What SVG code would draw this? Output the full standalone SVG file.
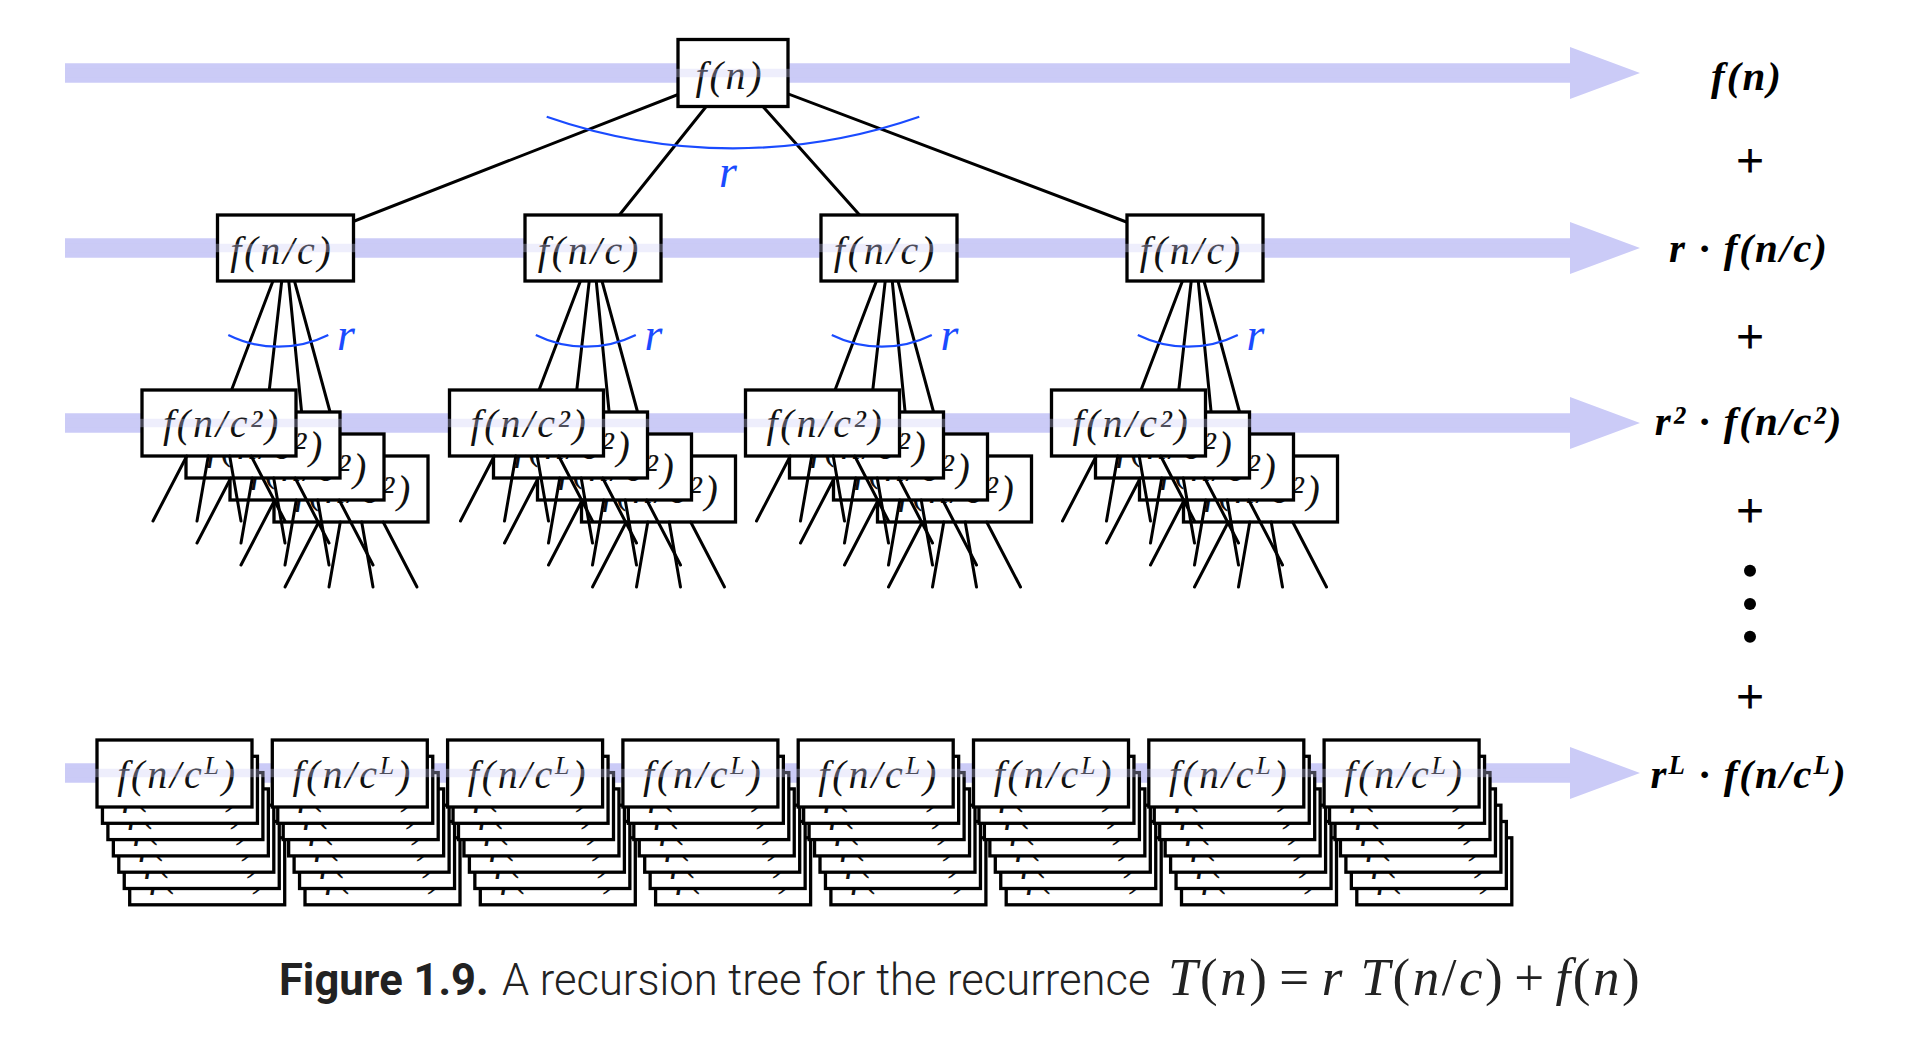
<svg xmlns="http://www.w3.org/2000/svg" width="1908" height="1048" viewBox="0 0 1908 1048">
<style>
.band{fill:#cbcbf7}
.strip{fill:#cbcbf7;fill-opacity:0.33}
.box{fill:#fff;stroke:#000;stroke-width:3.3}
.edge{stroke:#000;stroke-width:3;fill:none;stroke-linecap:round}
.arc{stroke:#1a4bff;fill:none;stroke-width:2.2}
.lbl{font-family:"Liberation Serif",serif;font-style:italic;font-size:40px;letter-spacing:2.8px;fill:#111;text-anchor:middle}
.rlab{font-family:"Liberation Serif",serif;font-style:italic;font-weight:bold;font-size:41px;letter-spacing:2px;fill:#000;text-anchor:middle}
.r{font-family:"Liberation Serif",serif;font-style:italic;font-size:46px;fill:#1a4bff}
.plus{font-family:"Liberation Serif",serif;font-size:48px;fill:#000;stroke:#000;stroke-width:1;text-anchor:middle}
.cap{font-family:Roboto,"Liberation Sans",sans-serif;font-size:43.5px;fill:#222}
.math{font-family:"Liberation Serif",serif;font-size:53px;letter-spacing:2.5px;fill:#222}
</style>
<defs>
<g id="u2">
<rect class="box" x="-77" y="-33" width="154" height="66"/>
<text class="lbl" x="3" y="13.5">f(n/c²)</text>
<path class="edge" d="M-32.2 33L-66 98M-10.7 33L-22 98M10.7 33L22 98M32.2 33L66 98"/>
</g>
<g id="uL">
<rect class="box" x="-77.5" y="-33.5" width="155" height="67"/>
<text class="lbl" x="3" y="14.5">f(n/c<tspan dy="-14" font-size="26">L</tspan><tspan dy="14">)</tspan></text>
</g>
</defs>
<rect width="1908" height="1048" fill="#fff"/>
<g id="bands">
<path class="band" d="M65 63.3H1570V47L1640 73L1570 99V82.7H65Z"/>
<path class="band" d="M65 238.3H1570V222L1640 248L1570 274V257.7H65Z"/>
<path class="band" d="M65 413.3H1570V397L1640 423L1570 449V432.7H65Z"/>
<path class="band" d="M65 763.3H1570V747L1640 773L1570 799V782.7H65Z"/>
</g>
<g id="connectors">
<path class="edge" d="M733 73L285.5 248M733 73L593 248M733 73L889 248M733 73L1195 248"/>
<path class="edge" d="M285.5 248L219 423M285.5 248L263 445M285.5 248L307 467M285.5 248L351 489"/>
<path class="edge" d="M593 248L526.5 423M593 248L570.5 445M593 248L614.5 467M593 248L658.5 489"/>
<path class="edge" d="M889 248L822.5 423M889 248L866.5 445M889 248L910.5 467M889 248L954.5 489"/>
<path class="edge" d="M1195 248L1128.5 423M1195 248L1172.5 445M1195 248L1216.5 467M1195 248L1260.5 489"/>
</g>
<g id="arcs">
<path class="arc" d="M546.7 116.7A565 565 0 0 0 919.3 116.7" stroke-width="2"/>
<text class="r" x="728" y="187" text-anchor="middle">r</text>
<path class="arc" d="M228.3 335A112.7 112.7 0 0 0 328.3 335"/>
<text class="r" x="337" y="350">r</text>
<path class="arc" d="M535.8 335A112.7 112.7 0 0 0 635.8 335"/>
<text class="r" x="644.5" y="350">r</text>
<path class="arc" d="M831.8 335A112.7 112.7 0 0 0 931.8 335"/>
<text class="r" x="940.5" y="350">r</text>
<path class="arc" d="M1137.8 335A112.7 112.7 0 0 0 1237.8 335"/>
<text class="r" x="1246.5" y="350">r</text>
</g>
<g id="root">
<rect class="box" x="678" y="39.5" width="110" height="67"/>
<text class="lbl" x="730" y="88.5">f(n)</text>
</g>
<g id="n1a"><rect class="box" x="217.5" y="215" width="136" height="66"/><text class="lbl" x="282" y="263.5">f(n/c)</text></g>
<g id="n1b"><rect class="box" x="525" y="215" width="136" height="66"/><text class="lbl" x="589.5" y="263.5">f(n/c)</text></g>
<g id="n1c"><rect class="box" x="821" y="215" width="136" height="66"/><text class="lbl" x="885.5" y="263.5">f(n/c)</text></g>
<g id="n1d"><rect class="box" x="1127" y="215" width="136" height="66"/><text class="lbl" x="1191.5" y="263.5">f(n/c)</text></g>
<g id="n2a">
<use href="#u2" x="351" y="489"/><use href="#u2" x="307" y="467"/><use href="#u2" x="263" y="445"/><use href="#u2" x="219" y="423"/>
</g>
<g id="n2b">
<use href="#u2" x="658.5" y="489"/><use href="#u2" x="614.5" y="467"/><use href="#u2" x="570.5" y="445"/><use href="#u2" x="526.5" y="423"/>
</g>
<g id="n2c">
<use href="#u2" x="954.5" y="489"/><use href="#u2" x="910.5" y="467"/><use href="#u2" x="866.5" y="445"/><use href="#u2" x="822.5" y="423"/>
</g>
<g id="n2d">
<use href="#u2" x="1260.5" y="489"/><use href="#u2" x="1216.5" y="467"/><use href="#u2" x="1172.5" y="445"/><use href="#u2" x="1128.5" y="423"/>
</g>
<g id="nL1"><use href="#uL" x="207.2" y="871.3"/><use href="#uL" x="201.75" y="855"/><use href="#uL" x="196.3" y="838.7"/><use href="#uL" x="190.85" y="822.4"/><use href="#uL" x="185.4" y="806.1"/><use href="#uL" x="179.95" y="789.8"/><use href="#uL" x="174.5" y="773.5"/></g>
<g id="nL2"><use href="#uL" x="382.5" y="871.3"/><use href="#uL" x="377.05" y="855"/><use href="#uL" x="371.6" y="838.7"/><use href="#uL" x="366.15" y="822.4"/><use href="#uL" x="360.7" y="806.1"/><use href="#uL" x="355.25" y="789.8"/><use href="#uL" x="349.8" y="773.5"/></g>
<g id="nL3"><use href="#uL" x="557.8" y="871.3"/><use href="#uL" x="552.35" y="855"/><use href="#uL" x="546.9" y="838.7"/><use href="#uL" x="541.45" y="822.4"/><use href="#uL" x="536" y="806.1"/><use href="#uL" x="530.55" y="789.8"/><use href="#uL" x="525.1" y="773.5"/></g>
<g id="nL4"><use href="#uL" x="733.1" y="871.3"/><use href="#uL" x="727.65" y="855"/><use href="#uL" x="722.2" y="838.7"/><use href="#uL" x="716.75" y="822.4"/><use href="#uL" x="711.3" y="806.1"/><use href="#uL" x="705.85" y="789.8"/><use href="#uL" x="700.4" y="773.5"/></g>
<g id="nL5"><use href="#uL" x="908.4" y="871.3"/><use href="#uL" x="902.95" y="855"/><use href="#uL" x="897.5" y="838.7"/><use href="#uL" x="892.05" y="822.4"/><use href="#uL" x="886.6" y="806.1"/><use href="#uL" x="881.15" y="789.8"/><use href="#uL" x="875.7" y="773.5"/></g>
<g id="nL6"><use href="#uL" x="1083.7" y="871.3"/><use href="#uL" x="1078.25" y="855"/><use href="#uL" x="1072.8" y="838.7"/><use href="#uL" x="1067.35" y="822.4"/><use href="#uL" x="1061.9" y="806.1"/><use href="#uL" x="1056.45" y="789.8"/><use href="#uL" x="1051" y="773.5"/></g>
<g id="nL7"><use href="#uL" x="1259" y="871.3"/><use href="#uL" x="1253.55" y="855"/><use href="#uL" x="1248.1" y="838.7"/><use href="#uL" x="1242.65" y="822.4"/><use href="#uL" x="1237.2" y="806.1"/><use href="#uL" x="1231.75" y="789.8"/><use href="#uL" x="1226.3" y="773.5"/></g>
<g id="nL8"><use href="#uL" x="1434.3" y="871.3"/><use href="#uL" x="1428.85" y="855"/><use href="#uL" x="1423.4" y="838.7"/><use href="#uL" x="1417.95" y="822.4"/><use href="#uL" x="1412.5" y="806.1"/><use href="#uL" x="1407.05" y="789.8"/><use href="#uL" x="1401.6" y="773.5"/></g>
<g id="strips">
<rect class="strip" x="65" y="68.8" width="1505" height="8.4"/>
<rect class="strip" x="65" y="243.8" width="1505" height="8.4"/>
<rect class="strip" x="65" y="418.8" width="1505" height="8.4"/>
<rect class="strip" x="65" y="768.8" width="1505" height="8.4"/>
</g>
<g id="sums">
<text class="rlab" x="1747" y="90">f(n)</text>
<text class="plus" x="1750" y="177">+</text>
<text class="rlab" x="1749" y="262">r · f(n/c)</text>
<text class="plus" x="1750" y="353">+</text>
<text class="rlab" x="1749" y="435">r² · f(n/c²)</text>
<text class="plus" x="1750" y="527">+</text>
<circle cx="1750" cy="570.7" r="6"/>
<circle cx="1750" cy="604" r="6"/>
<circle cx="1750" cy="636.7" r="6"/>
<text class="plus" x="1750" y="713">+</text>
<text class="rlab" x="1749" y="788">r<tspan dy="-14" font-size="27">L</tspan><tspan dy="14"> · f(n/c</tspan><tspan dy="-14" font-size="27">L</tspan><tspan dy="14">)</tspan></text>
</g>
<g id="caption">
<text class="cap" x="279" y="995" font-weight="bold">Figure 1.9.</text>
<text class="cap" x="502" y="995" font-weight="300">A recursion tree for the recurrence</text>
<text class="math" x="1168" y="995"><tspan font-style="italic">T</tspan>(<tspan font-style="italic">n</tspan>)<tspan dx="10">=</tspan><tspan font-style="italic" dx="10">r</tspan> <tspan font-style="italic">T</tspan>(<tspan font-style="italic">n</tspan>/<tspan font-style="italic">c</tspan>)<tspan dx="9">+</tspan><tspan font-style="italic" dx="9">f</tspan>(<tspan font-style="italic">n</tspan>)</text>
</g>
</svg>
